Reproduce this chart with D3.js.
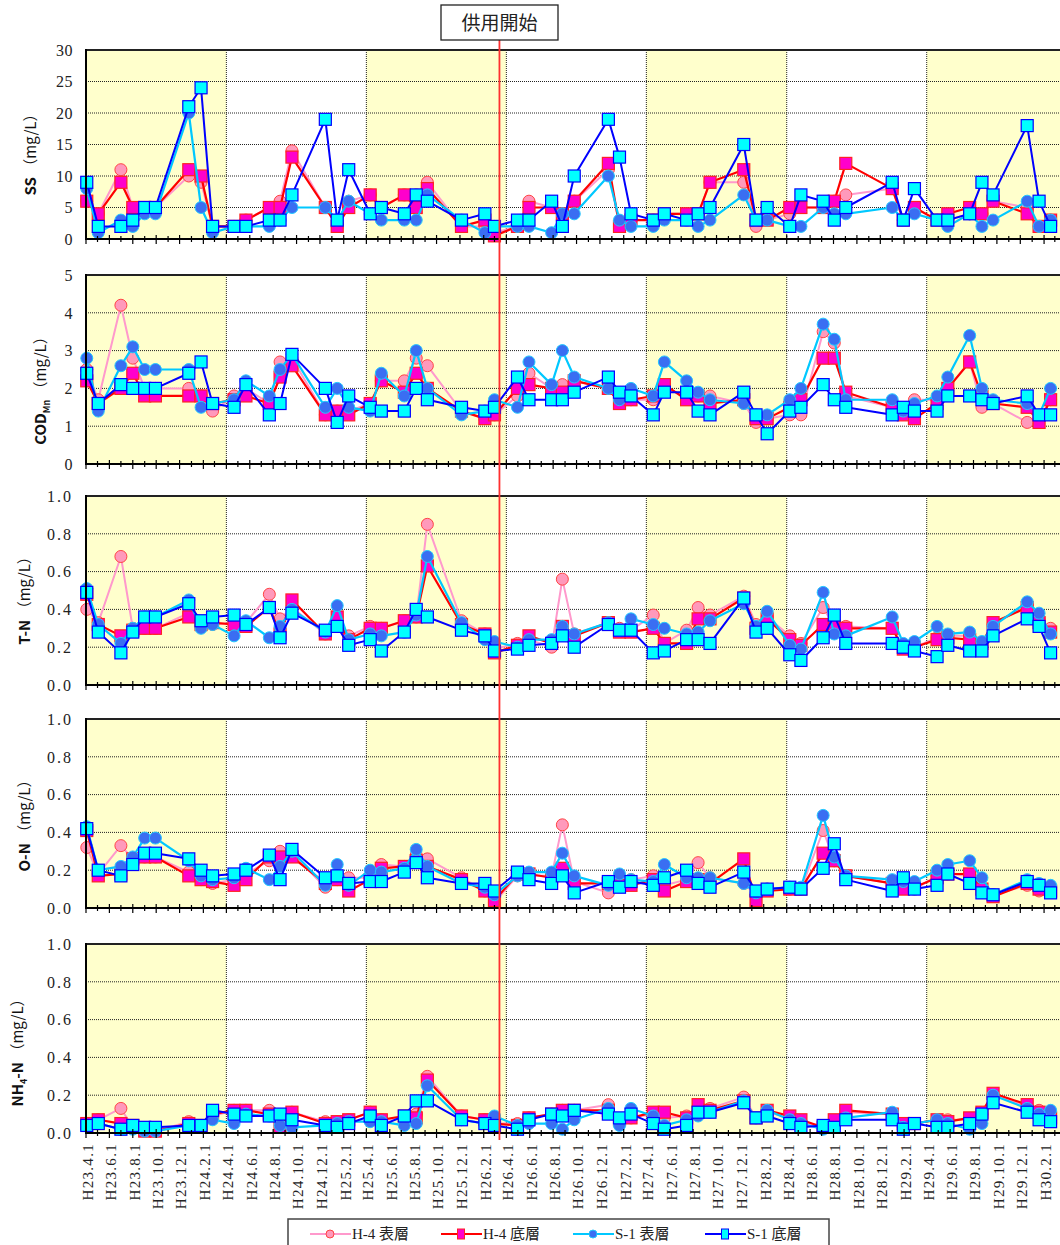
<!DOCTYPE html>
<html><head><meta charset="utf-8">
<script src="https://cdn.jsdelivr.net/npm/d3@7"></script>
<style>body{margin:0;background:#fff}</style>
</head><body><svg id="chart" width="1060" height="1245"></svg>
<script>
// ---- sampling dates ----
const sampleDates = ["2011-04-03","2011-05-03","2011-07-01","2011-08-01","2011-09-01","2011-09-29","2011-12-25","2012-01-26","2012-02-25",
"2012-04-21","2012-05-22","2012-07-22","2012-08-19","2012-09-19","2012-12-15","2013-01-15","2013-02-14",
"2013-04-11","2013-05-10","2013-07-09","2013-08-09","2013-09-07","2013-12-05","2014-02-04","2014-03-01",
"2014-04-30","2014-05-30","2014-07-28","2014-08-25","2014-09-25","2014-12-23","2015-01-21","2015-02-20",
"2015-04-19","2015-05-18","2015-07-15","2015-08-14","2015-09-14","2015-12-11","2016-01-12","2016-02-10",
"2016-04-09","2016-05-08","2016-07-05","2016-08-03","2016-09-02","2017-01-01","2017-01-30","2017-02-28",
"2017-04-28","2017-05-26","2017-07-22","2017-08-23","2017-09-21","2017-12-19","2018-01-19","2018-02-18"];
const serviceStartDate = "2014-03-14";
const seriesNames = ["H-4 表層","H-4 底層","S-1 表層","S-1 底層"];

// ---- SS (mg/L) ----
const ss_H4_top = [6,4,11,5,5,5,10,9,2,2,3,5,6,14,5,2,6,7,5,7,7,9,2,2,1,2,6,5,4,6,11,2,3,3,4,4,4,9,9,2,3,4,5,5,6,7,8,3,5,3,3,4,4,6,5,2,3];
const ss_H4_bot = [6,4,9,5,5,5,11,10,2,2,3,5,5,13,5,2,5,7,5,7,5,8,2,3,0.5,2,5,5,4,6,12,2,3,3,4,4,4,9,11,3,3,5,5,5,6,12,8,3,5,3,4,5,4,6,4,2,3];
const ss_S1_top = [8,1,3,2,4,4,20,5,1,2,2,2,3,5,5,3,6,4,3,3,3,7,3,1,2,2,2,1,4,4,10,3,2,2,3,3,2,3,7,3,3,2,2,5,4,4,5,3,4,3,2,4,2,3,6,2,3];
const ss_S1_bot = [9,2,2,3,5,5,21,24,2,2,2,3,3,7,19,3,11,4,5,4,7,6,3,4,2,3,3,6,2,10,19,13,4,3,4,3,4,5,15,3,5,2,7,6,3,5,9,3,8,3,3,4,9,7,18,6,2];
// ---- COD Mn (mg/L) ----
const cod_H4_top = [2.5,1.7,4.2,2.8,2.0,2.0,2.0,1.8,1.4,1.8,2.0,1.6,2.7,2.8,1.3,1.4,1.4,1.6,2.2,2.2,2.8,2.6,1.4,1.2,1.3,1.8,2.4,2.0,2.1,2.2,2.0,1.6,1.7,1.7,2.0,1.8,1.8,1.8,1.6,1.1,1.2,1.3,1.3,3.5,3.2,1.8,1.5,1.4,1.7,1.7,2.0,2.7,1.5,1.6,1.1,1.2,1.7];
const cod_H4_bot = [2.2,1.6,2.0,2.4,1.8,1.8,1.8,1.8,1.6,1.7,1.8,1.6,2.3,2.6,1.3,1.4,1.3,1.6,2.2,1.9,2.4,2.0,1.4,1.2,1.3,2.0,2.1,2.0,1.9,2.2,2.0,1.6,1.7,1.8,2.1,1.7,1.8,1.6,1.7,1.2,1.2,1.5,1.7,2.8,2.8,1.9,1.5,1.3,1.2,1.6,2.0,2.7,1.8,1.6,1.5,1.1,1.7];
const cod_S1_top = [2.8,1.4,2.6,3.1,2.5,2.5,2.5,1.5,1.6,1.7,2.2,1.8,2.5,2.9,1.5,2.0,1.5,1.4,2.4,1.8,3.0,2.0,1.3,1.4,1.7,1.5,2.7,2.1,3.0,2.3,2.0,1.7,2.0,1.8,2.7,2.2,1.9,1.7,1.6,1.3,1.3,1.7,2.0,3.7,3.3,1.7,1.7,1.4,1.6,1.8,2.3,3.4,2.0,1.7,1.6,1.3,2.0];
const cod_S1_bot = [2.4,1.6,2.1,2.0,2.0,2.0,2.4,2.7,1.6,1.5,2.1,1.3,1.6,2.9,2.0,1.1,1.8,1.5,1.4,1.4,2.0,1.7,1.5,1.4,1.5,2.3,1.7,1.7,1.7,1.9,2.3,1.9,1.8,1.3,1.9,1.9,1.4,1.3,1.9,1.3,0.8,1.4,1.5,2.1,1.7,1.5,1.3,1.5,1.4,1.4,1.8,1.8,1.7,1.6,1.8,1.3,1.3];
// ---- T-N (mg/L) ----
const tn_H4_top = [0.40,0.33,0.68,0.30,0.30,0.30,0.38,0.31,0.32,0.33,0.33,0.48,0.35,0.41,0.27,0.36,0.26,0.31,0.30,0.34,0.36,0.85,0.34,0.27,0.19,0.22,0.24,0.20,0.56,0.27,0.33,0.30,0.29,0.37,0.22,0.29,0.41,0.37,0.47,0.32,0.36,0.26,0.22,0.41,0.31,0.31,0.30,0.20,0.20,0.25,0.26,0.26,0.22,0.32,0.42,0.35,0.30];
const tn_H4_bot = [0.48,0.32,0.26,0.29,0.30,0.30,0.36,0.32,0.33,0.32,0.31,0.41,0.27,0.45,0.27,0.36,0.24,0.30,0.30,0.34,0.36,0.63,0.32,0.27,0.17,0.21,0.26,0.22,0.31,0.26,0.33,0.28,0.28,0.30,0.22,0.22,0.35,0.35,0.46,0.30,0.35,0.24,0.21,0.32,0.31,0.30,0.30,0.19,0.20,0.24,0.25,0.24,0.22,0.33,0.41,0.33,0.28];
const tn_S1_top = [0.51,0.32,0.22,0.30,0.36,0.36,0.45,0.30,0.32,0.26,0.34,0.25,0.31,0.40,0.28,0.42,0.24,0.27,0.26,0.28,0.37,0.68,0.33,0.24,0.23,0.20,0.24,0.24,0.31,0.27,0.33,0.29,0.35,0.32,0.30,0.27,0.28,0.34,0.43,0.31,0.39,0.21,0.19,0.49,0.27,0.26,0.36,0.22,0.23,0.31,0.27,0.28,0.23,0.31,0.44,0.38,0.27];
const tn_S1_bot = [0.49,0.28,0.17,0.28,0.36,0.36,0.43,0.34,0.36,0.37,0.32,0.41,0.25,0.38,0.29,0.31,0.21,0.24,0.18,0.28,0.40,0.36,0.29,0.26,0.18,0.19,0.21,0.22,0.26,0.20,0.32,0.29,0.29,0.17,0.18,0.24,0.24,0.22,0.46,0.28,0.30,0.16,0.13,0.25,0.37,0.22,0.22,0.20,0.18,0.15,0.21,0.18,0.18,0.26,0.35,0.31,0.17];
// ---- O-N (mg/L) ----
const on_H4_top = [0.32,0.18,0.33,0.26,0.27,0.27,0.19,0.15,0.13,0.15,0.18,0.25,0.30,0.29,0.11,0.15,0.16,0.16,0.23,0.22,0.28,0.26,0.16,0.09,0.03,0.17,0.17,0.17,0.44,0.14,0.08,0.12,0.15,0.17,0.12,0.15,0.24,0.16,0.13,0.07,0.10,0.10,0.10,0.41,0.25,0.17,0.13,0.12,0.10,0.17,0.18,0.17,0.10,0.07,0.12,0.09,0.11];
const on_H4_bot = [0.41,0.17,0.18,0.26,0.27,0.27,0.17,0.15,0.14,0.12,0.15,0.27,0.27,0.27,0.13,0.15,0.09,0.15,0.21,0.22,0.25,0.22,0.15,0.09,0.04,0.18,0.18,0.16,0.21,0.13,0.13,0.12,0.12,0.15,0.09,0.14,0.15,0.13,0.26,0.04,0.09,0.10,0.10,0.29,0.25,0.17,0.13,0.10,0.11,0.16,0.18,0.18,0.10,0.06,0.13,0.10,0.09];
const on_S1_top = [0.43,0.20,0.22,0.27,0.37,0.37,0.25,0.17,0.15,0.16,0.21,0.15,0.22,0.30,0.12,0.23,0.12,0.20,0.19,0.21,0.31,0.22,0.13,0.11,0.07,0.17,0.19,0.19,0.29,0.17,0.12,0.18,0.15,0.14,0.23,0.16,0.16,0.16,0.13,0.08,0.10,0.11,0.11,0.49,0.27,0.17,0.15,0.14,0.14,0.20,0.23,0.25,0.16,0.07,0.15,0.13,0.12];
const on_S1_bot = [0.42,0.20,0.17,0.23,0.29,0.29,0.26,0.20,0.17,0.18,0.20,0.28,0.15,0.31,0.16,0.17,0.13,0.14,0.14,0.19,0.24,0.16,0.13,0.13,0.09,0.19,0.15,0.13,0.17,0.08,0.14,0.11,0.14,0.12,0.16,0.20,0.13,0.11,0.19,0.09,0.10,0.11,0.10,0.21,0.34,0.15,0.09,0.16,0.10,0.12,0.18,0.13,0.08,0.07,0.14,0.12,0.08];
// ---- NH4-N (mg/L) ----
const nh4_H4_top = [0.05,0.07,0.13,0.03,0.01,0.01,0.06,0.04,0.09,0.12,0.12,0.12,0.06,0.11,0.06,0.06,0.07,0.11,0.07,0.08,0.10,0.30,0.09,0.07,0.05,0.05,0.08,0.10,0.12,0.12,0.15,0.07,0.08,0.10,0.08,0.09,0.14,0.13,0.19,0.08,0.11,0.08,0.06,0.03,0.05,0.11,0.10,0.04,0.05,0.07,0.07,0.07,0.10,0.20,0.14,0.12,0.09];
const nh4_H4_bot = [0.05,0.07,0.05,0.04,0.01,0.01,0.05,0.04,0.10,0.12,0.12,0.10,0.03,0.11,0.05,0.06,0.07,0.11,0.07,0.09,0.08,0.28,0.09,0.07,0.05,0.04,0.08,0.10,0.12,0.12,0.12,0.07,0.08,0.11,0.11,0.08,0.15,0.12,0.17,0.08,0.12,0.09,0.07,0.03,0.07,0.12,0.10,0.05,0.05,0.07,0.06,0.08,0.11,0.21,0.15,0.11,0.08];
const nh4_S1_top = [0.04,0.05,0.02,0.02,0.01,0.01,0.04,0.03,0.07,0.05,0.10,0.09,0.04,0.03,0.04,0.05,0.06,0.06,0.06,0.04,0.05,0.25,0.07,0.05,0.09,0.04,0.05,0.05,0.02,0.07,0.13,0.04,0.13,0.09,0.04,0.07,0.09,0.11,0.17,0.08,0.12,0.07,0.05,0.02,0.03,0.08,0.11,0.03,0.05,0.07,0.05,0.02,0.05,0.20,0.13,0.10,0.12];
const nh4_S1_bot = [0.04,0.05,0.02,0.04,0.03,0.03,0.04,0.04,0.12,0.10,0.09,0.09,0.10,0.07,0.04,0.03,0.05,0.09,0.04,0.09,0.17,0.17,0.07,0.05,0.04,0.02,0.07,0.10,0.09,0.12,0.10,0.08,0.10,0.05,0.02,0.04,0.11,0.11,0.16,0.08,0.09,0.05,0.03,0.04,0.03,0.07,0.07,0.02,0.05,0.03,0.03,0.05,0.10,0.16,0.11,0.07,0.06];

// ---- axis tick values ----
const ssTicks = [0,5,10,15,20,25,30];
const codTicks = [0,1,2,3,4,5];
const nTicks = [0,0.2,0.4,0.6,0.8,1.0];

// ---- layout ----
const svg = d3.select("#chart");
const parse = d3.timeParse("%Y-%m-%d");
const dates = sampleDates.map(parse);
const X0 = 86, PXM = 11.675;
const x = d3.scaleTime().domain([new Date(2011,3,1), new Date(2018,3,1)]).range([X0, X0 + 84*PXM]);
const serif = "'Liberation Serif','Noto Sans CJK JP',serif";
const cjk = "'Noto Sans CJK JP','Liberation Sans',sans-serif";

const styles = [
  {line:"#ff99cc", lw:2, shape:"circle", fill:"#ff99bb", stroke:"#ff4444"},
  {line:"#ff0000", lw:2.2, shape:"square", fill:"#ff00cc", stroke:"#ff2222"},
  {line:"#00c8ff", lw:2.2, shape:"circle", fill:"#3a6ef2", stroke:"#22c8ff"},
  {line:"#0000ff", lw:2, shape:"square", fill:"#00ffff", stroke:"#0000ff"}
];

const panels = [
  {top:50, bot:239, max:30, ticks:ssTicks, fmt:d3.format("d"), series:[ss_H4_top,ss_H4_bot,ss_S1_top,ss_S1_bot], label:[{t:"SS",b:true},{t:" （mg/L）"}], lx:31, ly:151},
  {top:275, bot:464, max:5, ticks:codTicks, fmt:d3.format("d"), series:[cod_H4_top,cod_H4_bot,cod_S1_top,cod_S1_bot], label:[{t:"COD",b:true},{t:"Mn",sub:true,b:true},{t:" （mg/L）"}], lx:41, ly:387},
  {top:496, bot:685, max:1, ticks:nTicks, fmt:d3.format(".1f"), series:[tn_H4_top,tn_H4_bot,tn_S1_top,tn_S1_bot], label:[{t:"T-N",b:true},{t:" （mg/L）"}], lx:25, ly:597},
  {top:719, bot:908, max:1, ticks:nTicks, fmt:d3.format(".1f"), series:[on_H4_top,on_H4_bot,on_S1_top,on_S1_bot], label:[{t:"O-N",b:true},{t:" （mg/L）"}], lx:25, ly:822},
  {top:944, bot:1133, max:1, ticks:nTicks, fmt:d3.format(".1f"), series:[nh4_H4_top,nh4_H4_bot,nh4_S1_top,nh4_S1_bot], label:[{t:"NH",b:true},{t:"4",sub:true,b:true},{t:"-N",b:true},{t:" （mg/L）"}], lx:18, ly:1049}
];

const xRight = 1060;
const fyStarts = d3.range(2011, 2019).map(y => new Date(y,3,1));
const months = d3.timeMonth.range(new Date(2011,3,1), new Date(2018,4,1));

panels.forEach(p => {
  const y = d3.scaleLinear().domain([0, p.max]).range([p.bot, p.top]);
  const g = svg.append("g");
  // yellow fiscal-year bands
  fyStarts.forEach((d,i) => {
    if (i % 2 === 0 && i < fyStarts.length-1) {
      const x1 = x(d), x2 = Math.min(x(fyStarts[i+1]), xRight);
      g.append("rect").attr("x", x1).attr("y", p.top).attr("width", x2-x1).attr("height", p.bot-p.top).attr("fill", "#ffffcc");
    }
  });
  // horizontal grid
  p.ticks.slice(1, -1).forEach(t => {
    g.append("line").attr("x1", X0).attr("x2", xRight).attr("y1", y(t)).attr("y2", y(t))
      .attr("stroke", "#222").attr("stroke-width", 1).attr("stroke-dasharray", "1,1");
  });
  // vertical year lines
  fyStarts.slice(1).forEach(d => {
    if (x(d) < xRight) g.append("line").attr("x1", x(d)).attr("x2", x(d)).attr("y1", p.top).attr("y2", p.bot)
      .attr("stroke", "#222").attr("stroke-width", 1).attr("stroke-dasharray", "1,1");
  });
  // series
  p.series.forEach((vals, si) => {
    const st = styles[si];
    const pts = vals.map((v,i) => [dates[i], v]);
    g.append("path").datum(pts)
      .attr("d", d3.line().x(d => x(d[0])).y(d => y(d[1])))
      .attr("fill", "none").attr("stroke", st.line).attr("stroke-width", st.lw).attr("stroke-linejoin", "round");
    const mk = g.append("g");
    pts.forEach(d => {
      if (st.shape === "circle") {
        mk.append("circle").attr("cx", x(d[0])).attr("cy", y(d[1])).attr("r", 6)
          .attr("fill", st.fill).attr("stroke", st.stroke).attr("stroke-width", 1);
      } else {
        mk.append("rect").attr("x", x(d[0]) - 6).attr("y", y(d[1]) - 6).attr("width", 12).attr("height", 12)
          .attr("fill", st.fill).attr("stroke", st.stroke).attr("stroke-width", 1.2);
      }
    });
  });
  // axes
  g.append("line").attr("x1", X0).attr("x2", xRight).attr("y1", p.top).attr("y2", p.top).attr("stroke", "#222").attr("stroke-width", 2);
  g.append("line").attr("x1", X0).attr("x2", X0).attr("y1", p.top-1).attr("y2", p.bot+1).attr("stroke", "#000").attr("stroke-width", 2);
  g.append("line").attr("x1", X0).attr("x2", xRight).attr("y1", p.bot).attr("y2", p.bot).attr("stroke", "#000").attr("stroke-width", 2);
  months.forEach((m,i) => {
    const xm = x(m);
    if (xm > xRight) return;
    const major = i % 2 === 0;
    g.append("line").attr("x1", xm).attr("x2", xm).attr("y1", p.bot - (major?4:3)).attr("y2", p.bot + (major?5:3))
      .attr("stroke", "#000").attr("stroke-width", 1.2);
  });
  // y tick labels
  p.ticks.forEach(t => {
    g.append("text").attr("x", 73).attr("y", y(t)).attr("dy", "0.36em").attr("text-anchor", "end")
      .attr("font-family", serif).attr("font-size", 16).attr("letter-spacing", p.max === 1 ? 2 : 0.5)
      .attr("fill", "#222").text(p.fmt(t));
  });
  // y axis title
  const tt = g.append("text").attr("transform", `translate(${p.lx},${p.ly}) rotate(-90)`)
    .attr("text-anchor", "middle").attr("dy", "0.35em").attr("font-family", cjk).attr("font-size", 15).attr("fill", "#111");
  let shifted = false;
  p.label.forEach(part => {
    const ts = tt.append("tspan").text(part.t).attr("font-weight", part.b ? "bold" : "normal");
    if (part.sub) { ts.attr("font-size", 9).attr("dy", 4); shifted = true; }
    else if (shifted) { ts.attr("dy", -4); shifted = false; }
  });
});

// x-axis labels (bottom panel only), every 2 months from H23.4.1
const labelMonths = d3.timeMonth.range(new Date(2011,3,1), new Date(2018,2,2), 2);
labelMonths.forEach(m => {
  const lbl = "H" + (m.getFullYear() - 1988) + "." + (m.getMonth()+1) + ".1";
  svg.append("text").attr("transform", `translate(${x(m) + 1.5},1143) rotate(-90)`)
    .attr("text-anchor", "end").attr("dy", "0.36em").attr("font-family", serif).attr("font-size", 15)
    .attr("letter-spacing", 1.3).attr("fill", "#222").text(lbl);
});

// service start marker
const xs = x(parse(serviceStartDate));
svg.append("line").attr("x1", xs).attr("x2", xs).attr("y1", 40).attr("y2", 1140).attr("stroke", "#ff3030").attr("stroke-width", 1.8);
svg.append("rect").attr("x", 441).attr("y", 5).attr("width", 117).attr("height", 35).attr("fill", "#fff").attr("stroke", "#222").attr("stroke-width", 1.3);
svg.append("text").attr("x", xs).attr("y", 23).attr("dy", "0.36em").attr("text-anchor", "middle")
  .attr("font-family", cjk).attr("font-size", 19).attr("fill", "#222").text("供用開始");

// legend
const lg = svg.append("g");
lg.append("rect").attr("x", 288).attr("y", 1219).attr("width", 541).attr("height", 40).attr("fill", "#fff").attr("stroke", "#444").attr("stroke-width", 1.5);
const legX = [310, 441, 573, 705];
seriesNames.forEach((n,i) => {
  const st = styles[i], lx = legX[i], ly = 1234;
  lg.append("line").attr("x1", lx).attr("x2", lx+41).attr("y1", ly).attr("y2", ly).attr("stroke", st.line).attr("stroke-width", 2);
  if (st.shape === "circle") lg.append("circle").attr("cx", lx+20).attr("cy", ly).attr("r", 4).attr("fill", st.fill).attr("stroke", st.stroke);
  else lg.append("rect").attr("x", lx+16.5).attr("y", ly-5).attr("width", 7).attr("height", 10).attr("fill", st.fill).attr("stroke", st.stroke);
  lg.append("text").attr("x", lx+42).attr("y", ly).attr("dy", "0.36em").attr("font-family", serif).attr("font-size", 15).attr("fill", "#222").text(n);
});
</script></body></html>
